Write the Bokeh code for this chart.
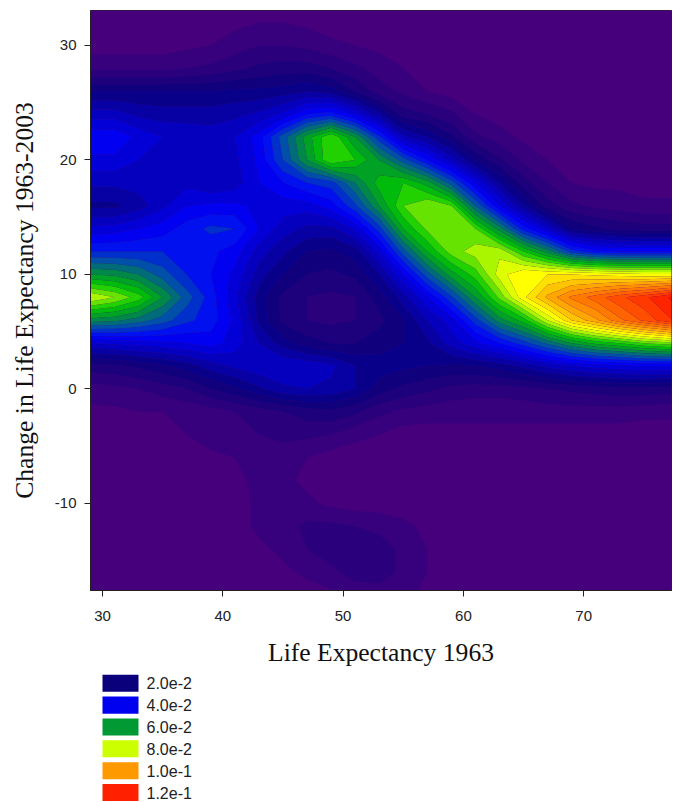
from bokeh.plotting import figure
from bokeh.models import Range1d, FixedTicker
from bokeh.layouts import column
from bokeh.core.properties import value
from bokeh.embed import file_html
from bokeh.resources import INLINE
import numpy as np

x_nodes = list(range(29, 77, 2)) + [77.4]
y_nodes = list(range(-18, 36, 2))

# density, in units of 1e-3; columns follow x_nodes
#        29 31 33 35 37 39 41 43 45 47 49 51 53 55 57 59 61 63 65 67 69 71 73 75 77
y_m18 = [1,1,1,1,1,1,1,1,1,2,3,5,6,5,3,1,1,1,1,1,1,1,1,1,1]
y_m16 = [1,1,1,1,1,1,1,1,3,5,7,10,10,7,4,1,1,1,1,1,1,1,1,1,1]
y_m14 = [1,1,1,1,1,1,2,3,5,8,10,11,10,7,4,2,1,1,1,1,1,1,1,1,1]
y_m12 = [1,1,1,1,1,1,2,5,6,9,9,8,7,5,3,1,1,1,1,1,1,1,1,1,1]
y_m10 = [1,1,1,1,1,1,2,5,6,5,3,2,2,2,2,1,1,1,1,1,1,1,1,1,1]
y_m8 = [1,1,1,1,1,2,3,5,5,3,2,1,1,1,1,1,1,1,1,1,1,1,1,1,1]
y_m6 = [1,1,1,2,2,3,4,6,6,4,2,2,2,1,1,1,2,2,2,1,1,1,1,1,1]
y_m4 = [1,1,2,3,4,6,7,8,9,9,8,5,4,2,2,3,3,3,3,2,2,2,2,2,2]
y_m2 = [3,3,4,4,5,6,8,10,12,14,15,13,9,7,6,5,5,5,5,6,6,6,6,5,5]
y_0 = [6,7,8,10,12,16,19,23,27,28,27,24,18,15,13,11,10,10,11,12,13,14,15,15,14]
y_2 = [14,15,17,19,22,26,29,31,32,31,29,24,22,21,20,19,20,22,25,29,32,34,35,36,36]
y_4 = [32,33,34,35,36,38,34,28,22,18,16,16,18,20,23,30,35,40,46,53,60,65,68,72,75]
y_6 = [58,57,54,50,45,42,35,23,15,12,11,12,15,20,28,34,46,58,66,80,92,99,107,113,120]
y_8 = [80,76,70,60,50,42,33,22,15,12,11,12,18,26,36,47,60,73,87,97,105,110,115,119,125]
y_10 = [60,59,56,50,44,40,35,26,20,16,15,17,24,36,50,62,70,82,88,88,88,87,86,85,85]
y_12 = [44,44,44,44,44,41,38,30,25,20,19,22,33,50,64,74,78,79,68,58,46,41,40,40,40]
y_14 = [33,34,36,38,42,45,44,36,30,27,27,33,46,64,73,76,72,58,42,32,20,17,15,14,14]
y_16 = [23,23,26,31,36,37,37,35,34,34,38,47,60,72,76,72,52,36,24,14,9,7,6,5,5]
y_18 = [29,29,30,31,31,28,30,36,40,44,46,56,66,68,62,50,36,24,14,8,4,3,3,2,2]
y_20 = [35,35,32,31,31,30,31,37,48,60,72,68,60,50,40,30,20,13,7,4,2,2,1,1,1]
y_22 = [39,39,35,32,31,30,32,38,50,62,72,60,45,29,24,17,9,6,3,2,1,1,1,1,1]
y_24 = [30,30,27,26,26,26,27,29,33,40,42,35,25,14,12,9,4,2,1,1,1,1,1,1,1]
y_26 = [20,20,20,20,20,20,21,21,22,24,22,16,10,7,4,2,1,1,1,1,1,1,1,1,1]
y_28 = [7,7,7,7,8,9,11,13,14,14,12,9,6,4,2,1,1,1,1,1,1,1,1,1,1]
y_30 = [2,2,2,2,3,4,6,8,8,7,5,4,3,2,1,1,1,1,1,1,1,1,1,1,1]
y_32 = [1,1,1,1,1,2,3,4,4,3,2,2,1,1,1,1,1,1,1,1,1,1,1,1,1]
y_34 = [1,1,1,1,1,1,2,2,2,2,1,1,1,1,1,1,1,1,1,1,1,1,1,1,1]

legend_labels = ["2.0e-2", "4.0e-2", "6.0e-2", "8.0e-2", "1.0e-1", "1.2e-1"]
legend_colors = ["#0a007c", "#0000f0", "#009933", "#ccff00", "#ff9900", "#ff2000"]
x_ticks = [30, 40, 50, 60, 70]
y_ticks = [-10, 0, 10, 20, 30]

z = np.array([y_m18, y_m16, y_m14, y_m12, y_m10, y_m8, y_m6, y_m4, y_m2, y_0, y_2, y_4, y_6,
              y_8, y_10, y_12, y_14, y_16, y_18, y_20, y_22, y_24, y_26, y_28, y_30, y_32, y_34], dtype=float)

# colour ramp anchors: value (1e-3) -> RGB
anchor_v = [0, 20, 40, 50, 60, 68, 80, 86, 100, 110, 125, 136]
anchor_rgb = [(75, 0, 125), (10, 0, 124), (0, 0, 255), (0, 80, 170), (0, 150, 50), (0, 200, 0),
              (204, 255, 0), (255, 255, 0), (255, 153, 0), (255, 100, 0), (255, 20, 0), (255, 0, 0)]
levels = [-1] + list(range(4, 136, 4))
mids = [(a + b) / 2 for a, b in zip(levels[:-1], levels[1:])]
palette = ["#%02x%02x%02x" % tuple(int(np.interp(m, anchor_v, [c[i] for c in anchor_rgb])) for i in range(3)) for m in mids]

p = figure(output_backend="svg", toolbar_location=None,
           x_range=Range1d(29.0, 77.3), y_range=Range1d(-17.6, 33.05),
           frame_width=581, frame_height=580, min_border_left=90, min_border_top=10,
           min_border_right=7, min_border_bottom=0, x_axis_label="Life Expectancy 1963",
           y_axis_label="Change in Life Expectancy 1963-2003", background_fill_color=palette[0])
p.grid.visible = False
p.contour(x_nodes, y_nodes, z, levels, fill_color=palette, line_color=None)
p.outline_line_color = "#222222"
for ax, ticks in ((p.xaxis[0], x_ticks), (p.yaxis[0], y_ticks)):
    ax.ticker = FixedTicker(ticks=ticks)
    ax.axis_line_color = "#222222"
    ax.major_tick_line_color = "#222222"
    ax.major_tick_out = 6
    ax.major_tick_in = 0
    ax.minor_tick_line_color = None
    ax.major_label_text_font = "Liberation Sans"
    ax.major_label_text_font_size = "15px"
    ax.major_label_text_color = "#222222"
    ax.axis_label_text_font = "Liberation Serif"
    ax.axis_label_text_font_size = "25.6px"
    ax.axis_label_text_font_style = "normal"
    ax.axis_label_text_color = "#111111"
p.yaxis[0].major_label_overrides = {-10: "-10"}
p.xaxis[0].major_label_standoff = 14
p.xaxis[0].axis_label_standoff = 14
p.yaxis[0].major_label_standoff = 8
p.yaxis[0].axis_label_standoff = 13

n = len(legend_labels)
lg = figure(frame_width=300, frame_height=137, output_backend="svg", toolbar_location=None,
            x_range=Range1d(0, 300), y_range=Range1d(n - 0.5 + 0.14, -0.63),
            min_border=0, outline_line_color=None, x_axis_type=None, y_axis_type=None)
lg.grid.visible = False
rows = list(range(n))
lg.rect(x=[30] * n, y=rows, width=36, height=0.78, fill_color=legend_colors, line_color=None)
lg.text(x=[56] * n, y=rows, text=legend_labels, text_font=value("Liberation Sans"),
        text_font_size="16px", text_baseline="middle", text_color="#222222")

open("out.html", "w").write(file_html(column(p, lg, spacing=0), INLINE))
